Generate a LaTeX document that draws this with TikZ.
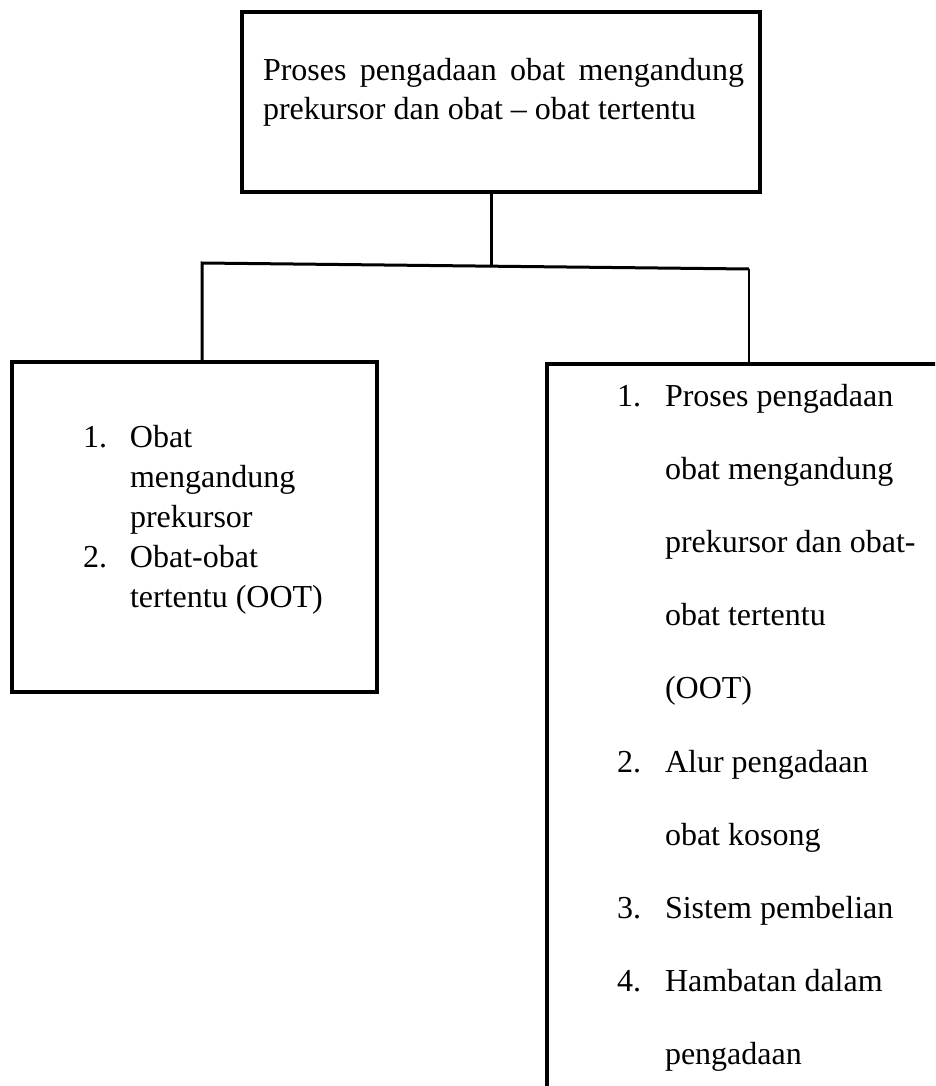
\documentclass[tikz,border=0pt]{standalone}
\usepackage{fontspec}
\setmainfont{Liberation Serif}
\usetikzlibrary{calc}
\begin{document}
\begin{tikzpicture}[x=1pt,y=-1pt,
  boxnode/.style={draw, line width=3.5pt, inner sep=0pt, outer sep=0pt, anchor=north west},
  link/.style={line width=3pt},
  thinlink/.style={line width=1.6pt},
  txt/.style={inner sep=0pt, outer sep=0pt, anchor=base west}]
\useasboundingbox (0,0) rectangle (935,1086);
\clip (0,0) rectangle (935,1086);
\fill[white] (0,0) rectangle (935,1086);
% boxes
\node[boxnode, minimum width=518pt, minimum height=180pt] (top) at (242,12) {};
\node[boxnode, minimum width=365pt, minimum height=330pt] (left) at (12,362) {};
\node[boxnode, minimum width=420pt, minimum height=760pt] (right) at (547,364) {};
% connectors
\coordinate (hl) at (202,263);
\coordinate (hr) at (749,269);
\coordinate (hm) at ($(hl)!0.53!(hr)$);
\draw[link] (top.south -| hm) -- (hm);
\draw[link] (left.north -| hl) -- (hl) -- (hr);
\draw[thinlink] (hr) -- (right.north -| hr);
% texts
\node[txt] (toptext) at (263,81) {\parbox[t]{481pt}{\fontsize{32}{38.8}\selectfont
  \makebox[481pt][s]{Proses pengadaan obat mengandung}\\
  prekursor dan obat -- obat tertentu}};
\node[txt] (lefttext) at (83,447) {\parbox[t]{290pt}{\fontsize{32}{40}\selectfont\raggedright
  \makebox[47pt][l]{1.}Obat\\
  \hspace*{47pt}mengandung\\
  \hspace*{47pt}prekursor\\
  \makebox[47pt][l]{2.}Obat-obat\\
  \hspace*{47pt}tertentu (OOT)}};
\node[txt] (righttext) at (617,406) {\parbox[t]{310pt}{\fontsize{32}{73.2}\selectfont\raggedright
  \makebox[48pt][l]{1.}Proses pengadaan\\
  \hspace*{48pt}obat mengandung\\
  \hspace*{48pt}prekursor dan obat-\\
  \hspace*{48pt}obat tertentu\\
  \hspace*{48pt}(OOT)\\
  \makebox[48pt][l]{2.}Alur pengadaan\\
  \hspace*{48pt}obat kosong\\
  \makebox[48pt][l]{3.}Sistem pembelian\\
  \makebox[48pt][l]{4.}Hambatan dalam\\
  \hspace*{48pt}pengadaan}};
\end{tikzpicture}
\end{document}
